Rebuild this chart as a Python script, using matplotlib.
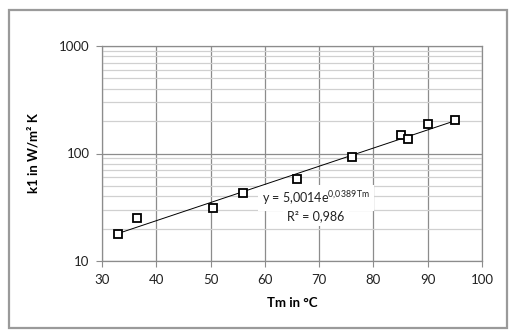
import numpy as np
import matplotlib
matplotlib.use('Agg')
import matplotlib.pyplot as plt
from matplotlib.patches import Rectangle
from matplotlib.ticker import LogLocator, FixedLocator, NullFormatter

plt.rcParams['font.family'] = ['Lato', 'DejaVu Sans']
plt.rcParams['mathtext.fontset'] = 'custom'
plt.rcParams['mathtext.rm'] = 'Lato'
plt.rcParams['mathtext.it'] = 'Lato'

# measured points: mean temperature vs. heat transfer coefficient
tm = [33.0, 36.5, 50.4, 56.0, 66.0, 76.0, 85.0, 86.4, 90.0, 95.0]
k1 = [18.0, 25.0, 31.0, 43.0, 58.0, 92.0, 150.0, 136.0, 188.0, 207.0]

# exponential trend line k1 = a*exp(b*Tm)
a = 5.0014
b = 0.0389
r2 = 0.986

x_ticks = [30, 40, 50, 60, 70, 80, 90, 100]
y_ticks = [10, 100, 1000]

grid_dark = '#8c8c8c'
grid_light = '#d0d0d0'

W, H = 515, 336
fig = plt.figure(figsize=(W / 100, H / 100), dpi=100)
fig.patch.set_facecolor('white')

def fpos(x, y):
    # pixel position (from top-left) to figure fraction
    return x / W, 1 - y / H

# chart frame
fig.patches.append(Rectangle(fpos(9, 328), 498 / W, 318 / H,
                             transform=fig.transFigure, fill=False,
                             edgecolor='#9a9a9a', linewidth=1.6))

ax = fig.add_axes([102 / W, 1 - 261 / H, 380 / W, 215 / H])
ax.set_yscale('log')
ax.set_xlim(30, 100)
ax.set_ylim(10, 1000)

ax.xaxis.set_major_locator(FixedLocator(x_ticks))
ax.yaxis.set_major_locator(FixedLocator(y_ticks))
ax.yaxis.set_minor_locator(LogLocator(base=10, subs=np.arange(2, 10)))
ax.yaxis.set_minor_formatter(NullFormatter())
ax.set_yticklabels([str(v) for v in y_ticks])

ax.grid(which='major', color=grid_dark, linewidth=0.9)
ax.grid(which='minor', axis='y', color=grid_light, linewidth=0.9)
ax.set_axisbelow(True)

for s in ax.spines.values():
    s.set_color(grid_dark)
    s.set_linewidth(0.9)

ax.tick_params(which='major', length=4, color=grid_dark, labelsize=9.5,
               labelcolor='#222222', pad=5)
ax.tick_params(which='minor', length=0)

# trend line
xs = np.linspace(min(tm), max(tm), 100)
ax.plot(xs, a * np.exp(b * xs), color='black', linewidth=0.7, zorder=4)

ax.plot(tm, k1, linestyle='none', marker='s', markersize=5.8,
        markerfacecolor='white', markeredgecolor='black', markeredgewidth=1.3,
        zorder=5)

# trend line equation with white background
ax.text(*fpos(262, 203), r'y = 5,0014e$^{\mathrm{0{,}0389\,Tm}}$',
        transform=fig.transFigure, fontsize=9, ha='left', va='baseline',
        color='#222222', zorder=3,
        bbox=dict(facecolor='white', edgecolor='none', pad=3))
ax.text(*fpos(316, 220), 'R² = %s' % str(r2).replace('.', ','),
        transform=fig.transFigure, fontsize=9, ha='center', va='baseline',
        color='#222222', zorder=3,
        bbox=dict(facecolor='white', edgecolor='none', pad=3))

ax.set_xlabel('Tm in °C', fontsize=9.5, fontweight='bold', labelpad=8)
ax.set_ylabel('k1 in W/m² K', fontsize=9.5, fontweight='bold', labelpad=14)

fig.savefig('out.png', dpi=100)
